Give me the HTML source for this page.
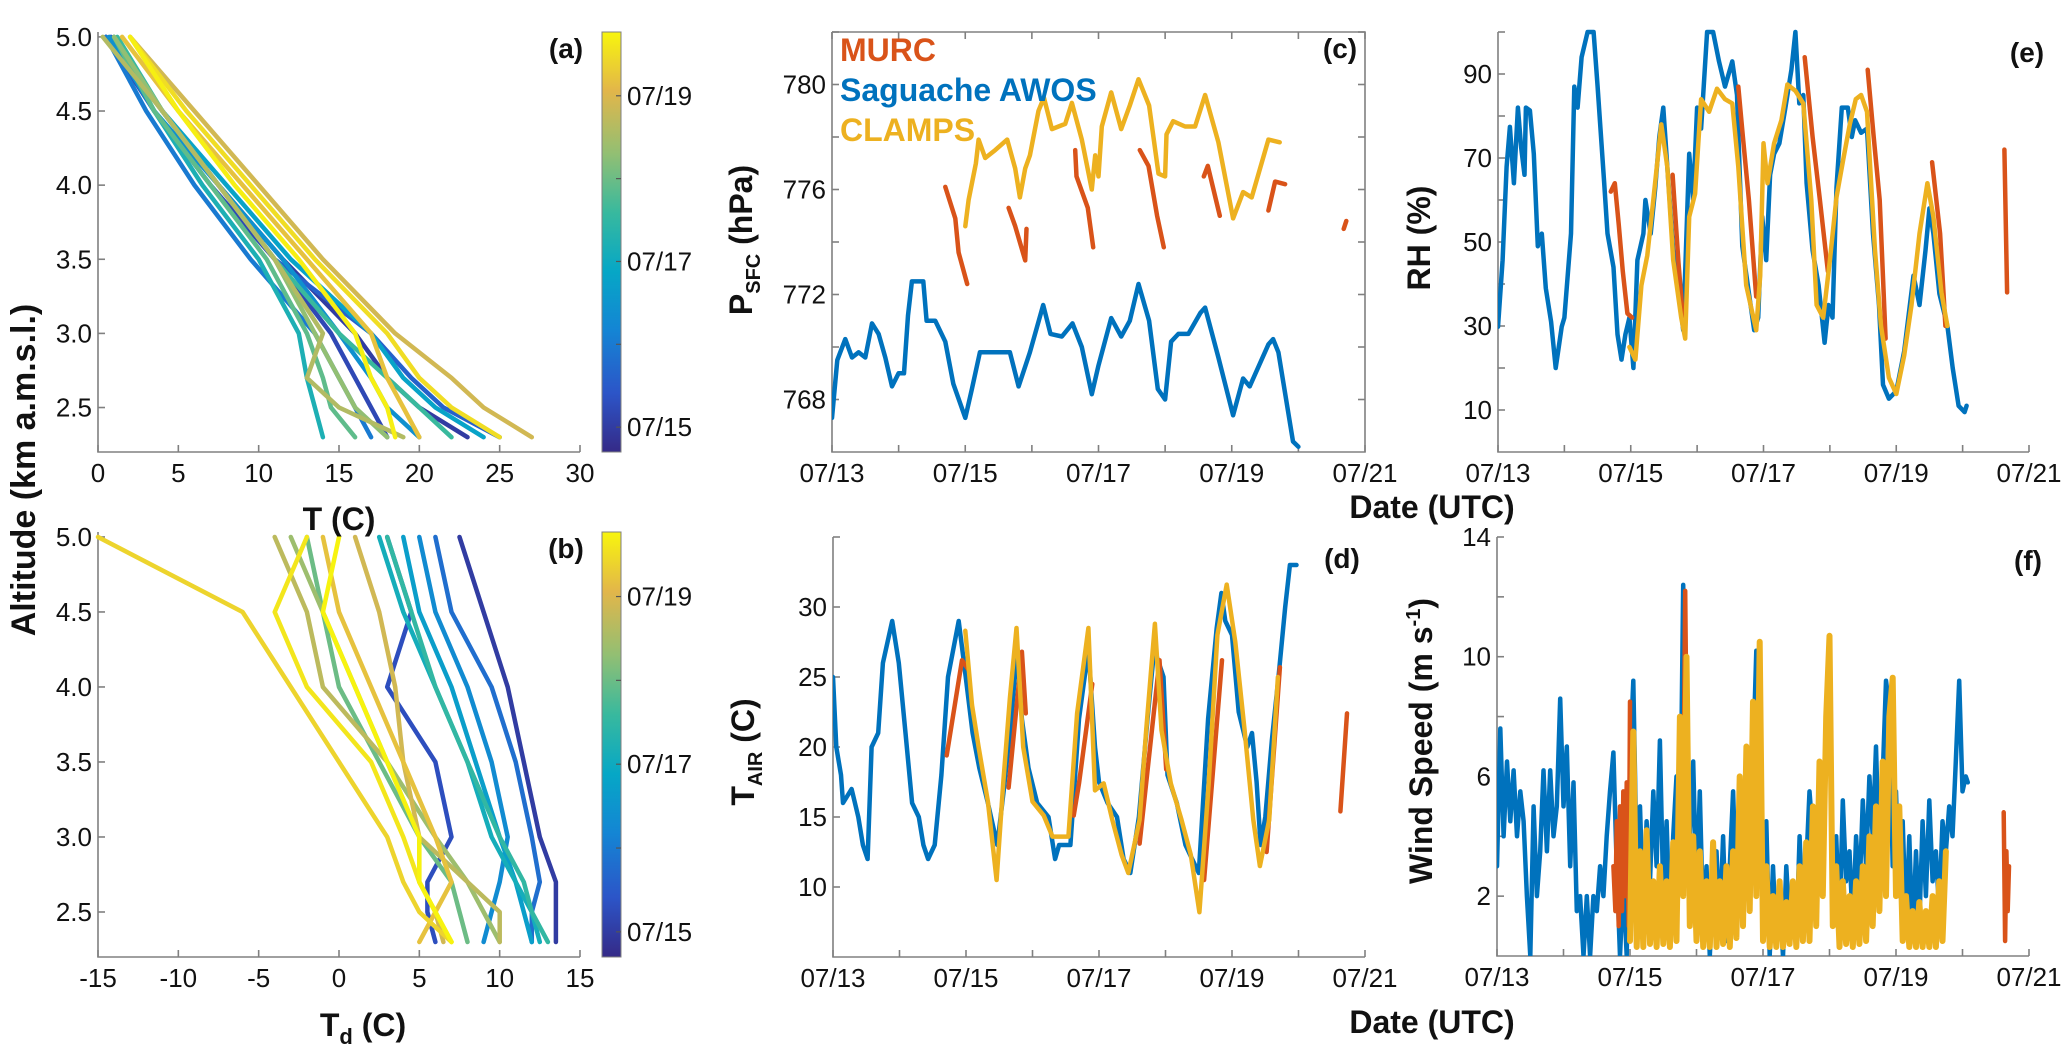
<!DOCTYPE html>
<html><head><meta charset="utf-8"><title>Surface and profile observations</title>
<style>
html,body{margin:0;padding:0;background:#fff;}
svg{display:block;font-family:"Liberation Sans",sans-serif;}
.tick{font-size:26px;fill:#111;}
.ttl{font-size:32px;font-weight:bold;fill:#111;}
.plab{font-size:28px;font-weight:bold;fill:#111;}
</style></head>
<body>
<svg id="chart" width="2067" height="1056" viewBox="0 0 2067 1056" xmlns="http://www.w3.org/2000/svg">
<defs>
<linearGradient id="parula" x1="0" y1="1" x2="0" y2="0">
<stop offset="0" stop-color="#352A87"/><stop offset="0.14" stop-color="#2C55C8"/><stop offset="0.29" stop-color="#1485D4"/>
<stop offset="0.43" stop-color="#06A7C6"/><stop offset="0.57" stop-color="#38B99E"/><stop offset="0.71" stop-color="#92BF73"/>
<stop offset="0.86" stop-color="#E2B64A"/><stop offset="1" stop-color="#F8F50D"/>
</linearGradient>
</defs>
</svg>
<script>
// ---------- data ----------
const dateTicks = [13,14,15,16,17,18,19,20,21];
const dateTickLabels = ['07/13','','07/15','','07/17','','07/19','','07/21'];
const aXTicks = [0,5,10,15,20,25,30];
const bXTicks = [-15,-10,-5,0,5,10,15];
const altTicks = [2.5,3.0,3.5,4.0,4.5,5.0];
const altTickLabels = ['2.5','3.0','3.5','4.0','4.5','5.0'];
const presTicks = [768,770,772,774,776,778,780,782];
const presTickLabels = ['768','','772','','776','','780',''];
const rhTicks = [10,20,30,40,50,60,70,80,90,100];
const rhTickLabels = ['10','','30','','50','','70','','90',''];
const tairTicks = [10,15,20,25,30,35];
const tairTickLabels = ['10','15','20','25','30',''];
const windTicks = [2,4,6,8,10,12,14];
const windTickLabels = ['2','','6','','10','','14'];
const cbTicks = [15,16,17,18,19];
const cbTickLabels = ['07/15','','07/17','','07/19'];

// profiles
const profAlt = [5.0,4.5,4.0,3.5,3.0,2.7,2.5,2.3];
const tProfDates = [15.0,15.2,15.6,16.0,16.4,16.8,17.2,17.6,17.9,18.3,18.6,18.9,19.2,19.5,19.7];
const tProf01=[0.5,4,7.5,11.5,16,18,20,23];
const tProf02=[0.5,3.5,7,11,14.5,16,17,18];
const tProf03=[0.8,4,7.5,11,17,19.5,21.5,25];
const tProf04=[0.5,3,6,9.5,13.5,15,16,17];
const tProf05=[0.7,3.5,7.5,11.5,15,17,18,20];
const tProf06=[1,4,8,12,17,19,21,24];
const tProf07=[1,3.5,6.5,10,12.5,13,13.5,14];
const tProf08=[1.2,4,7.5,11,15,18,20,22];
const tProf09=[1,3.5,7,10.5,13,14,14.5,16];
const tProf10=[1,4,7.5,11,13.5,15,16,18];
const tProf11=[0.3,4,7.5,11,14,13,15,19];
const tProf12=[2,6,10,14,18.5,22,24,27];
const tProf13=[1.5,5,9,13,17,18,19,20];
const tProf14=[2,5.5,9.5,13.5,18,20,22,25];
const tProf15=[2,5,8.5,12.5,16,17,18,18.5];
const tProfiles=[tProf01,tProf02,tProf03,tProf04,tProf05,tProf06,tProf07,tProf08,tProf09,tProf10,tProf11,tProf12,tProf13,tProf14,tProf15];

const tdProfDates = [15.0,15.3,15.8,16.3,16.7,17.1,17.5,18.0,18.4,18.7,18.9,19.2,19.4,19.6,19.75];
const tdProf01=[7.5,9,10.5,11.5,12.5,13.5,13.5,13.5];
const tdProf02=[3,4.5,3,6,7,5.5,5.5,6];
const tdProf03=[6,7,9.5,11,12,12.5,12,12];
const tdProf04=[5,6,8,9.5,10.5,10,9.5,9];
const tdProf05=[4,5,7,8.5,10,11,11.5,12];
const tdProf06=[2.5,4,6,8,9.5,11,12,12.5];
const tdProf07=[3,4.5,6,8,10,11.5,12,13];
const tdProf08=[-2,-1,0,2.5,5,7,7.5,8];
const tdProf09=[-3,-1,1,3,6,8,9,10];
const tdProf10=[-4,-2,-1,3,5,8,10,10];
const tdProf11=[1,2.5,3.5,4,5,5,6,6.5];
const tdProf12=[-1,0,2,4,6,7,6,5];
const tdProf13=[-15,-6,-3,0,3,4,5,7];
const tdProf14=[-2,-4,-2,2,4,5,6,7];
const tdProf15=[0,-1,1,3,5,5,6,7];
const tdProfiles=[tdProf01,tdProf02,tdProf03,tdProf04,tdProf05,tdProf06,tdProf07,tdProf08,tdProf09,tdProf10,tdProf11,tdProf12,tdProf13,tdProf14,tdProf15];

// pressure
const presAwosT=[13.0,13.08,13.2,13.3,13.4,13.5,13.6,13.7,13.8,13.9,14.0,14.08,14.14,14.2,14.37,14.42,14.55,14.7,14.82,15.0,15.1,15.22,15.5,15.67,15.8,15.97,16.17,16.28,16.45,16.61,16.75,16.9,17.0,17.19,17.34,17.47,17.6,17.76,17.89,18.0,18.09,18.2,18.35,18.53,18.6,18.8,19.02,19.17,19.27,19.55,19.62,19.7,19.92,20.0];
const presAwosV=[767.3,769.5,770.3,769.6,769.8,769.6,770.9,770.5,769.6,768.5,769.0,769.0,771.2,772.5,772.5,771.0,771.0,770.2,768.6,767.3,768.4,769.8,769.8,769.8,768.5,769.8,771.6,770.5,770.4,770.9,770.0,768.2,769.3,771.1,770.4,771.0,772.4,771.0,768.4,768.0,770.2,770.5,770.5,771.3,771.5,769.6,767.4,768.8,768.5,770.1,770.3,769.8,766.4,766.2];
const presClampsT=[15.0,15.05,15.16,15.2,15.3,15.45,15.63,15.75,15.82,15.9,15.97,16.1,16.18,16.3,16.5,16.6,16.75,16.9,16.95,17.0,17.05,17.19,17.34,17.47,17.6,17.76,17.9,18.0,18.02,18.12,18.3,18.45,18.6,18.8,19.02,19.17,19.3,19.55,19.72];
const presClampsV=[774.6,775.6,777.0,777.9,777.2,777.5,777.9,776.8,775.7,776.8,777.3,779.0,779.5,778.3,778.5,779.3,777.9,776.0,777.3,776.5,778.4,779.7,778.3,779.2,780.2,779.2,776.6,776.5,778.1,778.6,778.4,778.4,779.6,777.8,774.9,775.9,775.7,777.9,777.8];
const presMurcT=[14.7,14.85,14.9,15.03,null,15.65,15.75,15.9,15.92,null,16.65,16.67,16.84,16.92,null,17.62,17.75,17.88,17.98,null,18.58,18.64,18.82,null,19.55,19.65,19.8,null,20.68,20.72];
const presMurcV=[776.1,774.9,773.6,772.4,null,775.3,774.6,773.3,774.5,null,777.5,776.5,775.3,773.8,null,777.5,776.9,775.0,773.8,null,776.5,776.9,775.0,null,775.2,776.3,776.2,null,774.5,774.8];

// relative humidity
const rhAwosT=[13.0,13.07,13.13,13.18,13.24,13.3,13.35,13.4,13.42,13.48,13.54,13.6,13.66,13.72,13.8,13.87,13.96,14.0,14.1,14.15,14.2,14.26,14.35,14.44,14.5,14.6,14.65,14.74,14.8,14.86,14.92,14.98,15.04,15.1,15.19,15.22,15.3,15.37,15.43,15.49,15.55,15.64,15.73,15.79,15.88,15.94,16.0,16.06,16.15,16.24,16.33,16.42,16.53,16.6,16.68,16.77,16.86,16.92,16.98,17.04,17.1,17.16,17.24,17.33,17.42,17.48,17.54,17.6,17.65,17.74,17.83,17.92,17.98,18.04,18.1,18.18,18.27,18.33,18.38,18.47,18.56,18.65,18.74,18.8,18.89,19.0,19.12,19.26,19.35,19.44,19.5,19.56,19.65,19.77,19.85,19.94,20.03,20.06];
const rhAwosV=[29.8,45.7,67.9,77.4,64,82,72.4,66,82,81.3,71,49,52,39,31,20,29.8,32,52,87,82,94,100,100,87,64,52,44,28,22,28,32,20,45.7,52,60,52,63,75,82,67.9,48,37.7,29,71,60,82,77,100,100,93,87,93,85,49,39,29,32,56,45.7,66,71,73.5,82,91,100,83,85,64,48,39.7,26,35,32,63,82,82,75,79,76,77,52,35,16,12.7,14.5,24,42,35,48,58,52,37.7,30,20,11,9.5,11];
const rhClampsT=[14.98,15.07,15.16,15.25,15.34,15.46,15.55,15.64,15.76,15.82,15.88,15.97,16.06,16.18,16.3,16.42,16.53,16.62,16.74,16.89,16.95,17.0,17.06,17.16,17.27,17.36,17.48,17.6,17.72,17.8,17.9,18.0,18.1,18.2,18.3,18.39,18.47,18.56,18.68,18.77,18.89,19.0,19.12,19.23,19.35,19.47,19.56,19.68,19.77];
const rhClampsV=[25,22,39.7,46.8,60,78,67.9,45.7,32,27,56,61.5,84,81,86.5,84,83,67.9,39.7,29,42,73.5,64,73.5,79,87.5,86,83,60,35,32,45.7,60.7,69.6,78,84,85,81,48,30,17.7,13.8,23,35,52,64,56,38,30];
const rhMurcT=[14.7,14.76,14.82,14.88,14.95,15.02,null,15.63,15.72,15.8,null,16.62,16.69,16.78,16.89,null,17.62,17.74,17.85,17.97,null,18.57,18.66,18.75,18.84,null,19.54,19.66,19.74,null,20.63,20.67];
const rhMurcV=[62,64,54,43,33,32,null,66,45,29,null,87,75,60,37,null,94,75,60,43,null,91,75,60,27,null,69,52,30,null,72,38];

// air temperature
const tairAwosT=[13.0,13.05,13.12,13.15,13.28,13.38,13.45,13.52,13.58,13.68,13.75,13.89,13.99,14.09,14.19,14.29,14.36,14.43,14.53,14.63,14.73,14.83,14.89,14.97,15.1,15.2,15.33,15.47,15.57,15.67,15.77,15.84,15.94,16.07,16.24,16.34,16.4,16.57,16.7,16.84,16.94,17.0,17.13,17.27,17.37,17.47,17.6,17.73,17.83,17.97,18.03,18.17,18.3,18.4,18.5,18.64,18.77,18.84,18.9,19.0,19.1,19.23,19.3,19.37,19.43,19.5,19.6,19.7,19.8,19.87,19.97];
const tairAwosV=[25,20,18,16,17,15,13,12,20,21,26,29,26,21,16,15,13,12,13,18,25,27.5,29,26,21,18.5,16,13,17,21.5,27,22,18.5,16,15,12,13,13,22,27,20,17.5,16,15,12,11,15,22,27,25,18,16,13,12,11,22,28.5,31,29,28,22.5,20,21,17.5,13,15,20.5,25,30,33,33];
const tairClampsT=[14.99,15.09,15.19,15.33,15.46,15.56,15.66,15.76,15.86,16.0,16.17,16.3,16.54,16.67,16.84,16.94,17.07,17.2,17.34,17.44,17.61,17.71,17.84,17.94,18.08,18.24,18.38,18.51,18.65,18.78,18.92,19.05,19.19,19.32,19.42,19.56,19.69];
const tairClampsV=[28.3,23.0,20.0,16.1,10.5,17.4,23.5,28.5,20,16.1,15.1,13.6,13.6,22.4,28.5,16.9,17.4,14.8,12.3,11.0,14.8,21.2,28.8,21.2,17.4,14.8,12.3,8.2,17.4,28.0,31.6,27.5,21.2,14.8,11.5,14.8,25.0];
const tairMurcT=[14.71,14.94,15.04,null,15.64,15.84,15.9,null,16.62,16.7,16.9,null,17.61,17.91,18.01,null,18.58,18.85,null,19.52,19.72,null,20.63,20.73];
const tairMurcV=[19.4,26.2,25.5,null,17.1,26.8,22.4,null,15.1,17.4,24.5,null,13.1,26.2,18.4,null,10.5,26.2,null,12.5,25.7,null,15.4,22.4];

// wind speed
const windAwosT=[13.00,13.05,13.10,13.15,13.20,13.25,13.30,13.35,13.40,13.45,13.50,13.55,13.60,13.65,13.70,13.75,13.80,13.85,13.90,13.95,14.00,14.05,14.10,14.15,14.20,14.25,14.30,14.35,14.40,14.45,14.50,14.55,14.60,14.65,14.70,14.75,14.80,14.85,14.90,14.95,15.00,15.05,15.10,15.15,15.20,15.25,15.30,15.35,15.40,15.45,15.50,15.55,15.60,15.65,15.70,15.75,15.80,15.85,15.90,15.95,16.00,16.05,16.10,16.15,16.20,16.25,16.30,16.35,16.40,16.45,16.50,16.55,16.60,16.65,16.70,16.75,16.80,16.85,16.90,16.95,17.00,17.05,17.10,17.15,17.20,17.25,17.30,17.35,17.40,17.45,17.50,17.55,17.60,17.65,17.70,17.75,17.80,17.85,17.90,17.95,18.00,18.05,18.10,18.15,18.20,18.25,18.30,18.35,18.40,18.45,18.50,18.55,18.60,18.65,18.70,18.75,18.80,18.85,18.90,18.95,19.00,19.05,19.10,19.15,19.20,19.25,19.30,19.35,19.40,19.45,19.50,19.55,19.60,19.65,19.70,19.75,19.80,19.85,19.90,19.95,20.00,20.05,20.08];
const windAwosV=[3,7.6,4,6.5,4.5,6.2,4,5.5,4.5,2,0,5,2,3.5,6.2,3.5,6.2,4,5,8.6,5,7,3,5.8,1.5,2,0,2,0,2,1.5,3,2,4,5.5,6.8,3,0,2.5,0,6.5,9.2,3,5,1.5,4.5,2.5,5.5,3,7.2,2,4.5,1,4,6,3,12.4,7,4,6.5,2,5.5,1,3,0,2.5,3.5,1,4,0.5,3,5.5,2,6,3,5,4,6.5,10.2,5,2,4.5,0,3,0.5,2,0,3,1,2.5,0.5,4,1,3,5.5,4,2,6,4.5,7,9.7,2,4,1,5.2,2.5,3.5,1,4,2,5.2,3,6,4,7,3,6,9.2,8.3,3,5.5,2,4.5,1,4,0.5,3.5,1,4.5,2,5.2,2.5,3.5,1.5,4.5,3.5,5,4,6.5,9.2,5.5,6,5.8];
const windClampsT=[15.00,15.05,15.10,15.15,15.20,15.25,15.30,15.35,15.40,15.45,15.50,15.55,15.60,15.65,15.70,15.75,15.80,15.85,15.90,15.95,16.00,16.05,16.10,16.15,16.20,16.25,16.30,16.35,16.40,16.45,16.50,16.55,16.60,16.65,16.70,16.75,16.80,16.85,16.90,16.95,17.00,17.05,17.10,17.15,17.20,17.25,17.30,17.35,17.40,17.45,17.50,17.55,17.60,17.65,17.70,17.75,17.80,17.85,17.90,17.95,18.00,18.05,18.10,18.15,18.20,18.25,18.30,18.35,18.40,18.45,18.50,18.55,18.60,18.65,18.70,18.75,18.80,18.85,18.90,18.95,19.00,19.05,19.10,19.15,19.20,19.25,19.30,19.35,19.40,19.45,19.50,19.55,19.60,19.65,19.70,19.75];
const windClampsV=[0.5,7.5,0.3,3.5,0.3,4.2,0.4,2.5,0.3,3,0.4,2.5,0.3,3.8,0.5,8,2,10,1,4,0.5,3.5,0.3,2.5,0.3,3.8,0.3,2.5,0.4,3,0.3,3.5,0.6,6,1,7,1.5,8.5,2,10.5,0.5,3,0.3,2,0.3,2.5,0.3,1.8,0.4,2.5,0.3,3,0.5,3.8,0.5,5,1,6.5,2,8,10.7,1,3,0.3,2.5,0.4,2,0.3,2.5,0.4,3,0.5,4,1,5,1.5,6.5,2,8,9.3,2,5,0.5,2,0.3,1.5,0.3,1.8,0.3,1.5,0.3,2,0.3,2.5,0.5,3.5];
const windMurcT=[14.75,14.78,14.8,14.83,14.85,14.88,14.9,14.93,14.95,14.98,15.0,null,15.8,15.83,15.86,null,20.62,20.64,20.66,20.68,20.7];
const windMurcV=[3,1.5,4.5,1,5,1.5,5.5,2,5.8,1,8.5,null,4,12.2,5,null,4.8,0.5,3.5,1.5,3];

// ---------- layout ----------
const NS='http://www.w3.org/2000/svg';
const svg=document.getElementById('chart');
const RED='#D95319', BLUE='#0072BD', YEL='#EDB120', AX='#808080';
const P={
 a:{x0:98,x1:580,xmin:0,xmax:30,yt:32,yb:452,ymin:2.2,ymax:5.033},
 b:{x0:98,x1:580,xmin:-15,xmax:15,yt:532,yb:957,ymin:2.2,ymax:5.033},
 c:{x0:832,x1:1365,xmin:13,xmax:21,yt:32,yb:452,ymin:766,ymax:782},
 d:{x0:833,x1:1365,xmin:13,xmax:21,yt:537,yb:957,ymin:5,ymax:35},
 e:{x0:1498,x1:2029,xmin:13,xmax:21,yt:32,yb:452,ymin:0,ymax:100},
 f:{x0:1497,x1:2029,xmin:13,xmax:21,yt:537,yb:956,ymin:0,ymax:14}
};
function sx(p,v){return p.x0+(v-p.xmin)/(p.xmax-p.xmin)*(p.x1-p.x0);}
function sy(p,v){return p.yb-(v-p.ymin)/(p.ymax-p.ymin)*(p.yb-p.yt);}
function mk(tag,parent){const e=document.createElementNS(NS,tag);(parent||svg).appendChild(e);return e;}
function txt(s,x,y,cls,anchor,parent){const t=mk('text',parent);t.setAttribute('x',x);t.setAttribute('y',y);t.setAttribute('class',cls);t.setAttribute('text-anchor',anchor||'middle');t.textContent=s;return t;}

function parula(t){
 const st=[[0,53,42,135],[0.14,44,85,200],[0.29,20,133,212],[0.43,6,167,198],[0.57,56,185,158],[0.71,146,191,115],[0.86,226,182,74],[1,248,245,13]];
 t=Math.max(0,Math.min(1,t));
 for(let i=1;i<st.length;i++){if(t<=st[i][0]){const a=st[i-1],b=st[i],f=(t-a[0])/(b[0]-a[0]);
  return 'rgb('+[1,2,3].map(k=>Math.round(a[k]+f*(b[k]-a[k]))).join(',')+')';}}
 return 'rgb(248,245,13)';
}
const CBMIN=14.7, CBMAX=19.77;

function axes(key,xt,xl,yt,yl,opts){
 const p=P[key];
 const g=mk('g');
 
 
 const ax=mk('path',g);
 let d='M'+p.x0+','+p.yt+'V'+p.yb+'H'+p.x1;
 if(opts.box) d+='V'+p.yt+'H'+p.x0;
 ax.setAttribute('d',d);ax.setAttribute('fill','none');ax.setAttribute('stroke',AX);ax.setAttribute('stroke-width','1.6');
 
 
 xt.forEach((v,i)=>{const x=sx(p,v);
  const t=mk('line',g);t.setAttribute('x1',x);t.setAttribute('x2',x);t.setAttribute('y1',p.yb);t.setAttribute('y2',p.yb-7);t.setAttribute('stroke',AX);t.setAttribute('stroke-width','1.6');
  if(opts.box){const t2=mk('line',g);t2.setAttribute('x1',x);t2.setAttribute('x2',x);t2.setAttribute('y1',p.yt);t2.setAttribute('y2',p.yt+7);t2.setAttribute('stroke',AX);t2.setAttribute('stroke-width','1.6');}
  if(xl[i]!==''){const l=txt(xl[i],x,p.yb+30,'tick','middle',g);
   
   }
 });
 yt.forEach((v,i)=>{const y=sy(p,v);
  const t=mk('line',g);t.setAttribute('x1',p.x0);t.setAttribute('x2',p.x0+7);t.setAttribute('y1',y);t.setAttribute('y2',y);t.setAttribute('stroke',AX);t.setAttribute('stroke-width','1.6');
  if(opts.box){const t2=mk('line',g);t2.setAttribute('x1',p.x1);t2.setAttribute('x2',p.x1-7);t2.setAttribute('y1',y);t2.setAttribute('y2',y);t2.setAttribute('stroke',AX);t2.setAttribute('stroke-width','1.6');}
  if(yl[i]!==''){const l=txt(yl[i],p.x0-6,y+9,'tick','end',g);
   
   }
 });
 const cp=mk('clipPath',svg.querySelector('defs'));cp.setAttribute('id','clip-'+key);
 const r=mk('rect',cp);r.setAttribute('x',p.x0);r.setAttribute('y',p.yt-3);r.setAttribute('width',p.x1-p.x0+12);r.setAttribute('height',p.yb-p.yt+3);
}

function series(key,xs,ys,color,name,w){
 const p=P[key];let d='';let pen=false;
 const n=Math.min(xs.length,ys.length);
 for(let i=0;i<n;i++){
  if(xs[i]===null||ys[i]===null){pen=false;continue;}
  d+=(pen?'L':'M')+sx(p,xs[i]).toFixed(1)+','+sy(p,ys[i]).toFixed(1);pen=true;
 }
 const e=mk('path');e.setAttribute('d',d);e.setAttribute('fill','none');e.setAttribute('stroke',color);
 e.setAttribute('stroke-width',w||4.5);e.setAttribute('stroke-linejoin','round');e.setAttribute('stroke-linecap','round');
 e.setAttribute('clip-path','url(#clip-'+key+')');
 
 
 return e;
}

function profile(key,vals,date,name){
 const p=P[key];let d='';
 for(let i=0;i<vals.length;i++){d+=(i?'L':'M')+sx(p,vals[i]).toFixed(1)+','+sy(p,profAlt[i]).toFixed(1);}
 const e=mk('path');e.setAttribute('d',d);e.setAttribute('fill','none');e.setAttribute('stroke',parula((date-CBMIN)/(CBMAX-CBMIN)));
 e.setAttribute('stroke-width','4.5');e.setAttribute('stroke-linejoin','round');e.setAttribute('stroke-linecap','round');
 
 
}

function colorbar(key,top,bottom,x){
 const g=mk('g');
 
 
 const r=mk('rect',g);r.setAttribute('x',x);r.setAttribute('y',top);r.setAttribute('width',19);r.setAttribute('height',bottom-top);
 r.setAttribute('fill','url(#parula)');r.setAttribute('stroke',AX);r.setAttribute('stroke-width','1');
 cbTicks.forEach((v,i)=>{const y=bottom-(v-CBMIN)/(CBMAX-CBMIN)*(bottom-top);
  const t=mk('line',g);t.setAttribute('x1',x+19);t.setAttribute('x2',x+14);t.setAttribute('y1',y);t.setAttribute('y2',y);t.setAttribute('stroke','#555');t.setAttribute('stroke-width','1.2');
  if(cbTickLabels[i]!==''){const l=txt(cbTickLabels[i],x+25,y+9,'tick','start',g);
   
   }
 });
}

// ---------- draw ----------
axes('a',aXTicks,aXTicks.map(String),altTicks,altTickLabels,{});
axes('b',bXTicks,bXTicks.map(String),altTicks,altTickLabels,{});
axes('c',dateTicks,dateTickLabels,presTicks,presTickLabels,{box:true});
axes('d',dateTicks,dateTickLabels,tairTicks,tairTickLabels,{});
axes('e',dateTicks,dateTickLabels,rhTicks,rhTickLabels,{});
axes('f',dateTicks,dateTickLabels,windTicks,windTickLabels,{});

tProfiles.forEach((pr,i)=>profile('a',pr,tProfDates[i],'t-profile'));
tdProfiles.forEach((pr,i)=>profile('b',pr,tdProfDates[i],'td-profile'));
colorbar('a',32,452,602);
colorbar('b',532,957,602);

series('c',presAwosT,presAwosV,BLUE,'pressure-awos-line');
series('c',presClampsT,presClampsV,YEL,'pressure-clamps-line');
series('c',presMurcT,presMurcV,RED,'pressure-murc-line');

series('e',rhAwosT,rhAwosV,BLUE,'rh-awos-line');
series('e',rhMurcT,rhMurcV,RED,'rh-murc-line');
series('e',rhClampsT,rhClampsV,YEL,'rh-clamps-line');

series('d',tairAwosT,tairAwosV,BLUE,'tair-awos-line');
series('d',tairMurcT,tairMurcV,RED,'tair-murc-line');
series('d',tairClampsT,tairClampsV,YEL,'tair-clamps-line');

series('f',windAwosT,windAwosV,BLUE,'wind-awos-line',4.5);
series('f',windMurcT,windMurcV,RED,'wind-murc-line',4.5);
series('f',windClampsT,windClampsV,YEL,'wind-clamps-line',6);

// legend
let lg;
lg=txt('MURC',840,61,'ttl','start');lg.style.fill=RED;


lg=txt('Saguache AWOS',840,101,'ttl','start');lg.style.fill=BLUE;


lg=txt('CLAMPS',840,141,'ttl','start');lg.style.fill=YEL;



// panel labels
[['(a)',566,58],['(b)',566,558],['(c)',1340,58],['(d)',1342,568],['(e)',2027,62],['(f)',2028,570]].forEach(l=>{
 const t=txt(l[0],l[1],l[2],'plab','middle');
 
 
});
</script>
<div style="position:absolute;left:0;top:0;width:2067px;height:1056px;pointer-events:none;">
<svg width="2067" height="1056" style="position:absolute;left:0;top:0" font-family="Liberation Sans, sans-serif">
 <text x="339" y="530" text-anchor="middle" font-size="32" font-weight="bold" fill="#111">T (C)</text>
 <text x="363" y="1036" text-anchor="middle" font-size="32" font-weight="bold" fill="#111">T<tspan font-size="22" dy="8">d</tspan><tspan dy="-8"> (C)</tspan></text>
 <text transform="translate(35,470) rotate(-90)" text-anchor="middle" font-size="34" font-weight="bold" fill="#111">Altitude (km a.m.s.l.)</text>
 <text transform="translate(752,240) rotate(-90)" text-anchor="middle" font-size="32" font-weight="bold" fill="#111">P<tspan font-size="20" dy="8">SFC</tspan><tspan dy="-8"> (hPa)</tspan></text>
 <text transform="translate(1430,238) rotate(-90)" text-anchor="middle" font-size="32" font-weight="bold" fill="#111">RH (%)</text>
 <text transform="translate(754,752) rotate(-90)" text-anchor="middle" font-size="32" font-weight="bold" fill="#111">T<tspan font-size="20" dy="8">AIR</tspan><tspan dy="-8"> (C)</tspan></text>
 <text transform="translate(1432,741) rotate(-90)" text-anchor="middle" font-size="32" font-weight="bold" fill="#111">Wind Speed (m s<tspan font-size="20" dy="-12">-1</tspan><tspan dy="12">)</tspan></text>
 <text x="1432" y="518" text-anchor="middle" font-size="32" font-weight="bold" fill="#111">Date (UTC)</text>
 <text x="1432" y="1033" text-anchor="middle" font-size="32" font-weight="bold" fill="#111">Date (UTC)</text>
</svg>
</div>
</body></html>
